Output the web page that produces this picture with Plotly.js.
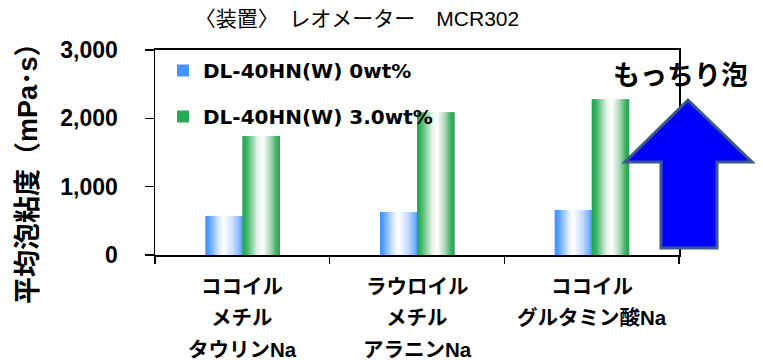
<!DOCTYPE html>
<html><head><meta charset="utf-8">
<script src="https://cdn.plot.ly/plotly-3.0.1.min.js"></script>
<style>html,body{margin:0;padding:0;background:#fff}#chart{width:763px;height:360px}</style>
</head><body><div id="chart"></div>
<script>
// ---- data ----
const categories = ["ココイル<br>メチル<br>タウリンNa", "ラウロイル<br>メチル<br>アラニンNa", "ココイル<br>グルタミン酸Na"];
const seriesNames = ["DL-40HN(W) 0wt%", "DL-40HN(W) 3.0wt%"];
const values0wt = [570, 630, 660];
const values3wt = [1740, 2090, 2280];
const yTickVals = [0, 1000, 2000, 3000];
const titleText = "〈装置〉　レオメーター　MCR302";
const yTitleText = "平均泡粘度（mPa･s）";
const arrowLabel = "もっちり泡";

// ---- layout geometry (pixels) ----
const W = 763, H = 360, L = 155, R = 84, T = 50, B = 105;
const PW = W - L - R, PH = H - T - B;
const px = x => (x - L) / PW;
const py = y => (H - B - y) / PH;

// gradient stops (styling)
const blueStops = [[0, [55,140,255]], [0.12, [95,165,255]], [0.38, [225,237,255]], [0.5, [255,255,255]], [0.75, [200,220,255]], [0.92, [130,180,255]], [1, [80,155,255]]];
const greenStops = [[0, [25,165,75]], [0.12, [60,180,100]], [0.4, [225,242,230]], [0.55, [255,255,255]], [0.75, [175,215,185]], [0.9, [70,180,105]], [1, [30,165,80]]];
function colorAt(stops, t) {
  for (let i = 1; i < stops.length; i++) {
    if (t <= stops[i][0]) {
      const [t0, c0] = stops[i-1], [t1, c1] = stops[i];
      const f = (t - t0) / (t1 - t0);
      const c = c0.map((v, k) => Math.round(v + (c1[k] - v) * f));
      return `rgb(${c[0]},${c[1]},${c[2]})`;
    }
  }
  const c = stops[stops.length-1][1];
  return `rgb(${c[0]},${c[1]},${c[2]})`;
}

const barW = 0.212, N = 36;
const traces = [];
function addSeries(vals, name, stops, startOffset, group) {
  for (let i = 0; i < N; i++) {
    const t = (i + 0.5) / N;
    traces.push({
      type: 'bar', x: categories, y: vals, name: name,
      legendgroup: group, showlegend: i === 0,
      offset: startOffset + i * barW / N,
      width: barW / N * 1.6,
      marker: { color: i === 0 ? colorAt(stops, 0.04) : colorAt(stops, t), line: { width: 0 } },
      hoverinfo: 'skip'
    });
  }
}
addSeries(values0wt, seriesNames[0], blueStops, -barW, 'a');
addSeries(values3wt, seriesNames[1], greenStops, 0, 'b');

const annotations = [];
categories.forEach(cat => {
  cat.split('<br>').forEach((line, k) => {
    annotations.push({
      xref: 'x', x: cat, yref: 'paper', y: 0, yanchor: 'middle', xanchor: 'center',
      yshift: -31 - k * 31.5, text: line, showarrow: false,
      font: { family: 'Liberation Sans, Noto Sans CJK JP', size: 20.5, color: '#000', weight: 'bold' }
    });
  });
});
annotations.push({
  xref: 'paper', yref: 'paper', x: px(28), y: py(167), xanchor: 'center', yanchor: 'middle',
  textangle: -90, text: yTitleText, showarrow: false,
  font: { family: 'Liberation Sans, Noto Sans CJK JP', size: 27, color: '#000', weight: 'bold' }
});
annotations.push({
  xref: 'paper', yref: 'paper', x: px(680), y: py(73), xanchor: 'center', yanchor: 'middle',
  text: arrowLabel, showarrow: false,
  font: { family: 'Noto Sans CJK JP', size: 27, color: '#000', weight: 'bold' }
});

const arrowPts = [[688,100],[752,162],[717,162],[717,248],[661,248],[661,162],[625,162]];
const path = 'M ' + arrowPts.map(p => px(p[0]) + ',' + py(p[1])).join(' L ') + ' Z';

const layout = {
  width: W, height: H,
  margin: { l: L, r: R, t: T, b: B, pad: 0 },
  paper_bgcolor: '#fff', plot_bgcolor: '#fff',
  barmode: 'overlay',
  showlegend: true,
  title: { text: titleText, xref: 'container', yref: 'container', x: 357 / W, xanchor: 'center', y: 1 - 19 / H, yanchor: 'middle',
    font: { family: 'Liberation Sans, Noto Sans CJK JP', size: 21, color: '#000' } },
  xaxis: {
    type: 'category', showticklabels: false, ticks: 'outside', ticklen: 7, tickwidth: 1.5, tickcolor: '#000',
    tickson: 'boundaries', showline: true, linecolor: '#000', linewidth: 2, mirror: true,
    showgrid: false, zeroline: false, fixedrange: true
  },
  yaxis: {
    range: [0, 3000], tickvals: yTickVals, tickformat: ',d', ticks: 'outside', ticklen: 9, tickwidth: 1.5, tickcolor: '#000',
    showline: true, linecolor: '#000', linewidth: 1.5, mirror: true, showgrid: false, zeroline: false,
    ticklabelstandoff: 22,
    tickfont: { family: 'Liberation Sans', size: 23, color: '#000', weight: 'bold' }, fixedrange: true
  },
  legend: {
    x: px(163), xanchor: 'left', y: py(51), yanchor: 'top', bgcolor: 'rgba(0,0,0,0)',
    traceorder: 'grouped', tracegroupgap: 17,
    font: { family: 'DejaVu Sans, Noto Sans CJK JP', size: 20, color: '#000', weight: 'bold' }
  },
  annotations: annotations,
  shapes: [{ type: 'path', xref: 'paper', yref: 'paper', path: path, fillcolor: '#0000ff', line: { color: '#3b5a8a', width: 3 }, layer: 'above' }]
};

Plotly.newPlot('chart', traces, layout, { displayModeBar: false, staticPlot: true });
</script>
</body></html>
